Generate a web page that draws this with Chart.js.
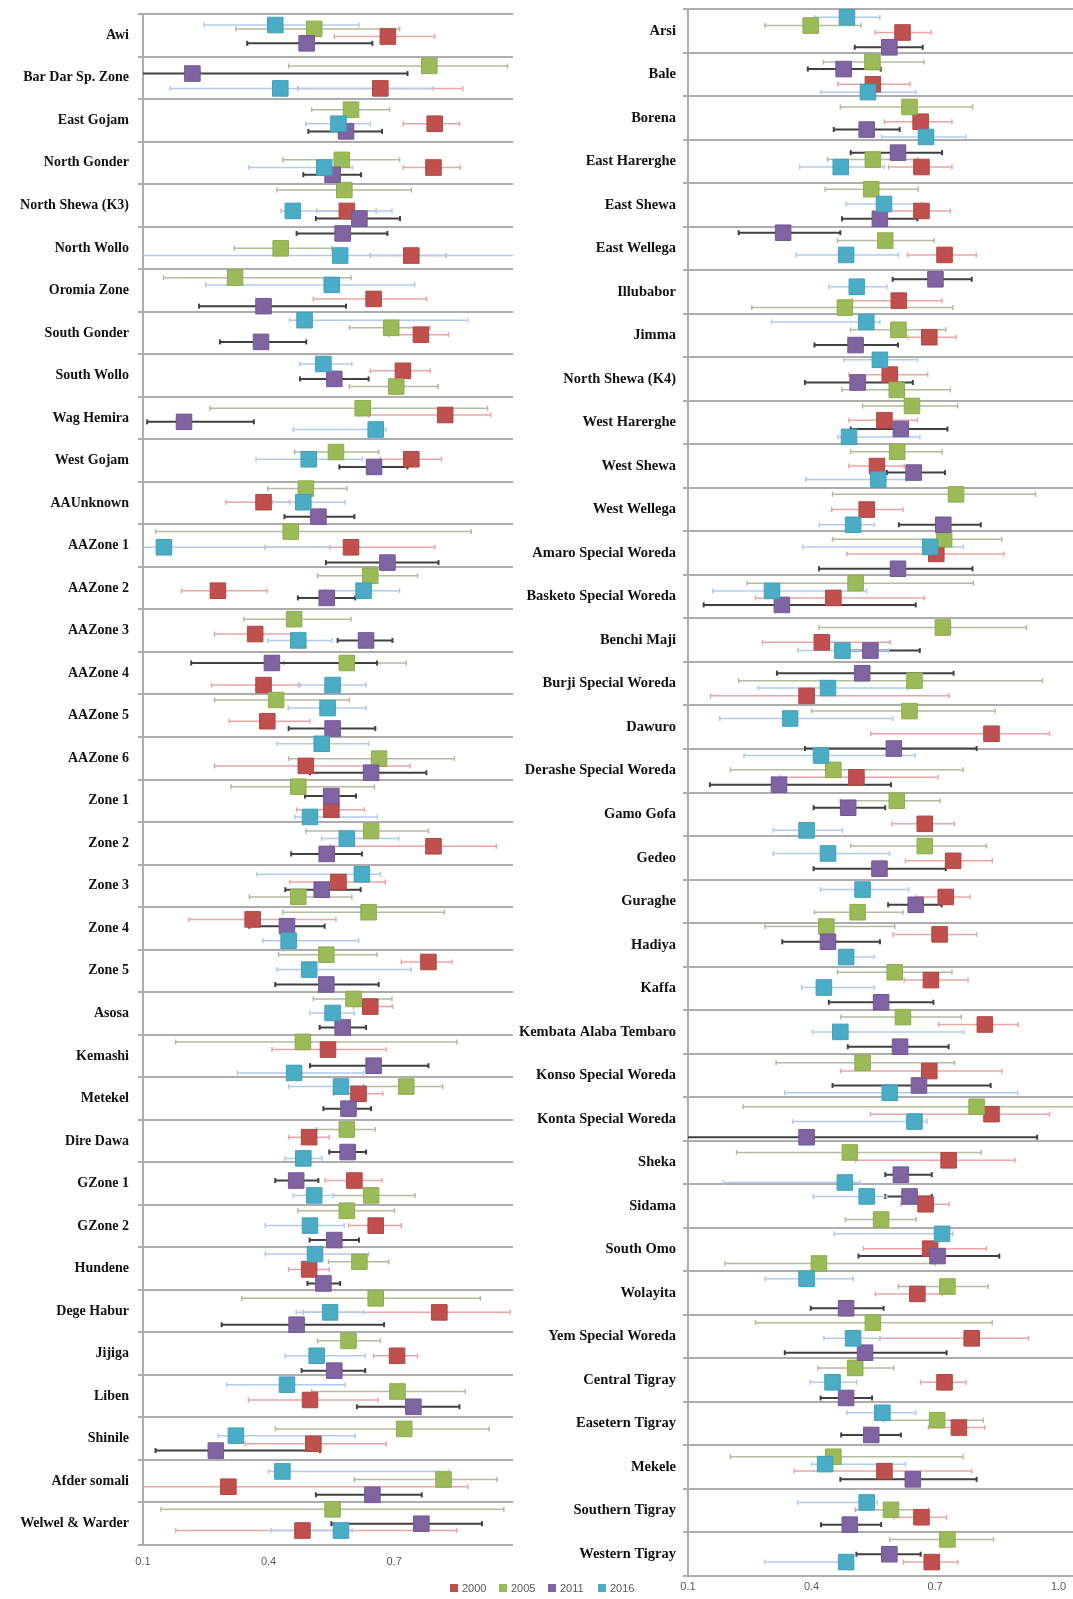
<!DOCTYPE html>
<html>
<head>
<meta charset="utf-8">
<script src="https://cdn.jsdelivr.net/npm/chart.js@4.4.0/dist/chart.umd.min.js"></script>
<style>
  html, body { margin: 0; padding: 0; background: #fff; }
  #page { position: relative; width: 1073px; height: 1599px; overflow: hidden; background: #fff; }
  #leftChart { position: absolute; left: 0; top: 0; }
  #rightChart { position: absolute; left: 512px; top: 0; }
  .lg { position: absolute; top: 1581px; height: 14px; font: 11px 'Liberation Sans', Arial, sans-serif; color: #595959; line-height: 14px; z-index: 5; }
  .lg i { display: inline-block; width: 8px; height: 8px; margin-right: 4px; vertical-align: -0px; }
</style>
</head>
<body>
<div id="page">
  <canvas id="leftChart" width="515" height="1599"></canvas>
  <canvas id="rightChart" width="561" height="1599"></canvas>
  <div class="lg" style="left:450px"><i style="background:#C0504D"></i>2000</div>
  <div class="lg" style="left:499px"><i style="background:#9BBB59"></i>2005</div>
  <div class="lg" style="left:548px"><i style="background:#8064A2"></i>2011</div>
  <div class="lg" style="left:598px"><i style="background:#4BACC6"></i>2016</div>
</div>
<script>
// ---------------------------------------------------------------
// Data: estimate, lower / upper limit and the
// row position of each marker inside its zone band (0 = top, 1 = bottom)
// ---------------------------------------------------------------
const seriesNames = ['2000', '2005', '2011', '2016'];
const xTicksLeft = [0.1, 0.4, 0.7];
const xTicksRight = [0.1, 0.4, 0.7, 1.0];

const leftZones = ['Awi', 'Bar Dar Sp. Zone', 'East Gojam', 'North Gonder', 'North Shewa (K3)', 'North Wollo',
  'Oromia Zone', 'South Gonder', 'South Wollo', 'Wag Hemira', 'West Gojam', 'AAUnknown', 'AAZone 1', 'AAZone 2',
  'AAZone 3', 'AAZone 4', 'AAZone 5', 'AAZone 6', 'Zone 1', 'Zone 2', 'Zone 3', 'Zone 4', 'Zone 5', 'Asosa',
  'Kemashi', 'Metekel', 'Dire Dawa', 'GZone 1', 'GZone 2', 'Hundene', 'Dege Habur', 'Jijiga', 'Liben', 'Shinile',
  'Afder somali', 'Welwel & Warder'];

const rightZones = ['Arsi', 'Bale', 'Borena', 'East Harerghe', 'East Shewa', 'East Wellega', 'Illubabor', 'Jimma',
  'North Shewa (K4)', 'West Harerghe', 'West Shewa', 'West Wellega', 'Amaro Special Woreda', 'Basketo Special Woreda',
  'Benchi Maji', 'Burji Special Woreda', 'Dawuro', 'Derashe Special Woreda', 'Gamo Gofa', 'Gedeo', 'Guraghe',
  'Hadiya', 'Kaffa', 'Kembata Alaba Tembaro', 'Konso Special Woreda', 'Konta Special Woreda', 'Sheka', 'Sidama',
  'South Omo', 'Wolayita', 'Yem Special Woreda', 'Central Tigray', 'Easetern Tigray', 'Mekele', 'Southern Tigray',
  'Western Tigray'];

// left panel
const left2000 = [0.685,0.667,0.797,0.794,0.587,0.741,0.651,0.764,0.721,0.822,0.741,0.388,0.597,0.279,0.368,0.388,0.397,0.489,0.550,0.794,0.567,0.362,0.782,0.643,0.542,0.615,0.497,0.605,0.656,0.497,0.808,0.707,0.499,0.507,0.304,0.481];
const left2000Lo = [0.557,0.470,0.722,0.722,0.515,0.643,0.507,0.687,0.643,0.640,0.667,0.298,0.392,0.192,0.271,0.264,0.306,0.271,0.467,0.547,0.451,0.210,0.717,0.603,0.408,0.555,0.448,0.535,0.591,0.448,0.483,0.651,0.352,0.344,0.080,0.178];
const left2000Hi = [0.797,0.864,0.856,0.858,0.657,0.824,0.777,0.830,0.786,0.931,0.813,0.450,0.797,0.396,0.475,0.475,0.499,0.738,0.629,0.944,0.679,0.561,0.838,0.696,0.681,0.673,0.545,0.671,0.717,0.545,0.977,0.756,0.661,0.681,0.876,0.850];
const left2000Row = [0.53,0.75,0.58,0.61,0.63,0.68,0.70,0.54,0.39,0.43,0.47,0.48,0.54,0.56,0.58,0.78,0.63,0.68,0.71,0.57,0.41,0.29,0.29,0.34,0.35,0.39,0.41,0.43,0.49,0.52,0.53,0.55,0.59,0.62,0.63,0.66];

const left2005 = [0.509,0.784,0.597,0.575,0.581,0.429,0.320,0.693,0.705,0.625,0.561,0.489,0.453,0.643,0.461,0.587,0.418,0.664,0.471,0.645,0.471,0.639,0.538,0.603,0.482,0.729,0.587,0.645,0.587,0.617,0.656,0.591,0.708,0.724,0.818,0.553];
const left2005Lo = [0.322,0.448,0.503,0.434,0.420,0.318,0.149,0.593,0.593,0.260,0.462,0.398,0.130,0.517,0.341,0.436,0.271,0.448,0.310,0.489,0.354,0.434,0.424,0.507,0.178,0.627,0.515,0.555,0.470,0.543,0.336,0.517,0.503,0.416,0.605,0.143];
const left2005Hi = [0.713,0.971,0.689,0.713,0.741,0.551,0.597,0.786,0.805,0.923,0.663,0.587,0.884,0.756,0.597,0.729,0.593,0.844,0.653,0.782,0.599,0.820,0.659,0.695,0.850,0.816,0.655,0.750,0.701,0.687,0.906,0.667,0.870,0.927,0.946,0.962];
const left2005Row = [0.35,0.22,0.25,0.43,0.14,0.51,0.20,0.38,0.76,0.27,0.30,0.16,0.17,0.21,0.23,0.26,0.13,0.51,0.17,0.21,0.76,0.12,0.12,0.16,0.17,0.22,0.23,0.78,0.14,0.34,0.20,0.20,0.39,0.27,0.46,0.16];

const left2011 = [0.491,0.218,0.585,0.553,0.617,0.577,0.388,0.382,0.557,0.198,0.652,0.519,0.684,0.539,0.633,0.408,0.553,0.645,0.550,0.539,0.527,0.444,0.538,0.577,0.651,0.591,0.589,0.466,0.557,0.531,0.467,0.557,0.746,0.274,0.648,0.765];
const left2011Lo = [0.349,0.080,0.495,0.483,0.513,0.467,0.234,0.284,0.475,0.110,0.569,0.438,0.537,0.470,0.565,0.215,0.448,0.499,0.487,0.454,0.440,0.354,0.416,0.522,0.499,0.531,0.545,0.416,0.498,0.493,0.288,0.479,0.611,0.130,0.513,0.550];
const left2011Hi = [0.648,0.732,0.671,0.621,0.714,0.684,0.585,0.490,0.639,0.365,0.732,0.605,0.806,0.607,0.696,0.659,0.655,0.777,0.609,0.623,0.620,0.534,0.663,0.633,0.782,0.645,0.633,0.519,0.616,0.571,0.676,0.631,0.856,0.523,0.766,0.910];
const left2011Row = [0.69,0.40,0.76,0.78,0.81,0.16,0.87,0.71,0.58,0.59,0.65,0.82,0.90,0.73,0.73,0.26,0.80,0.84,0.39,0.75,0.59,0.45,0.82,0.83,0.73,0.74,0.76,0.43,0.83,0.85,0.82,0.90,0.75,0.78,0.82,0.50];

const left2016 = [0.416,0.428,0.567,0.533,0.458,0.571,0.551,0.486,0.531,0.656,0.496,0.483,0.150,0.627,0.471,0.553,0.541,0.527,0.499,0.587,0.623,0.448,0.497,0.553,0.461,0.573,0.483,0.509,0.499,0.511,0.547,0.515,0.444,0.322,0.433,0.573];
const left2016Lo = [0.246,0.165,0.489,0.353,0.430,0.080,0.250,0.450,0.475,0.459,0.370,0.410,0.080,0.535,0.398,0.471,0.447,0.420,0.463,0.527,0.372,0.386,0.420,0.499,0.326,0.448,0.440,0.459,0.392,0.392,0.466,0.440,0.300,0.280,0.400,0.406];
const left2016Hi = [0.616,0.793,0.643,0.600,0.695,1.000,0.749,0.876,0.599,0.680,0.624,0.583,0.547,0.713,0.551,0.633,0.633,0.639,0.660,0.711,0.667,0.615,0.741,0.605,0.627,0.627,0.527,0.555,0.581,0.639,0.627,0.631,0.583,0.607,0.830,0.600];
const left2016Row = [0.26,0.75,0.58,0.61,0.63,0.68,0.37,0.20,0.23,0.77,0.47,0.48,0.54,0.56,0.73,0.78,0.32,0.16,0.88,0.39,0.23,0.79,0.47,0.49,0.90,0.22,0.91,0.78,0.49,0.16,0.53,0.55,0.23,0.43,0.27,0.66];

// right panel
const right2000 = [0.621,0.549,0.665,0.667,0.667,0.723,0.612,0.686,0.590,0.577,0.559,0.534,0.703,0.453,0.425,0.388,0.837,0.509,0.675,0.744,0.726,0.711,0.690,0.821,0.686,0.837,0.733,0.677,0.688,0.657,0.789,0.723,0.758,0.577,0.667,0.692];
const right2000Lo = [0.555,0.464,0.577,0.587,0.583,0.633,0.499,0.633,0.491,0.491,0.491,0.449,0.486,0.264,0.281,0.155,0.544,0.323,0.596,0.628,0.654,0.598,0.625,0.709,0.471,0.543,0.507,0.617,0.526,0.555,0.566,0.665,0.684,0.358,0.600,0.623];
const right2000Hi = [0.690,0.639,0.741,0.741,0.737,0.800,0.717,0.751,0.682,0.657,0.625,0.622,0.867,0.674,0.591,0.734,0.978,0.707,0.747,0.839,0.785,0.801,0.780,0.902,0.862,0.978,0.894,0.734,0.825,0.717,0.927,0.775,0.821,0.789,0.728,0.755];
const right2000Row = [0.54,0.73,0.59,0.63,0.64,0.65,0.70,0.54,0.40,0.45,0.50,0.50,0.52,0.53,0.55,0.78,0.65,0.65,0.72,0.57,0.40,0.26,0.31,0.33,0.40,0.39,0.45,0.46,0.48,0.52,0.54,0.55,0.59,0.59,0.65,0.68];

const right2005 = [0.398,0.548,0.638,0.549,0.545,0.579,0.481,0.611,0.607,0.644,0.608,0.751,0.722,0.507,0.719,0.650,0.638,0.453,0.607,0.675,0.512,0.436,0.602,0.622,0.524,0.801,0.493,0.569,0.418,0.730,0.549,0.506,0.705,0.453,0.593,0.730];
const right2005Lo = [0.287,0.429,0.470,0.439,0.433,0.463,0.255,0.495,0.474,0.524,0.495,0.451,0.451,0.244,0.418,0.223,0.400,0.203,0.470,0.495,0.407,0.287,0.463,0.471,0.314,0.234,0.218,0.482,0.190,0.611,0.264,0.415,0.575,0.203,0.506,0.590];
const right2005Hi = [0.520,0.673,0.791,0.659,0.659,0.698,0.743,0.726,0.737,0.755,0.717,0.944,0.862,0.793,0.922,0.961,0.846,0.768,0.712,0.825,0.622,0.602,0.741,0.764,0.747,1.050,0.812,0.654,0.700,0.829,0.839,0.600,0.817,0.768,0.684,0.842];
const right2005Row = [0.38,0.22,0.25,0.46,0.14,0.32,0.86,0.37,0.75,0.12,0.17,0.15,0.18,0.19,0.21,0.43,0.13,0.48,0.19,0.23,0.75,0.08,0.13,0.16,0.21,0.22,0.27,0.81,0.82,0.35,0.18,0.22,0.42,0.26,0.48,0.16];

const right2011 = [0.589,0.478,0.534,0.610,0.566,0.331,0.701,0.507,0.512,0.617,0.648,0.720,0.610,0.328,0.543,0.523,0.600,0.321,0.489,0.565,0.653,0.440,0.569,0.615,0.661,0.388,0.617,0.638,0.706,0.484,0.530,0.484,0.545,0.646,0.493,0.589];
const right2011Lo = [0.505,0.391,0.454,0.495,0.474,0.223,0.597,0.407,0.384,0.495,0.583,0.612,0.418,0.138,0.490,0.316,0.384,0.153,0.405,0.405,0.586,0.329,0.442,0.488,0.451,0.050,0.579,0.579,0.514,0.398,0.335,0.422,0.472,0.470,0.423,0.509];
const right2011Hi = [0.670,0.568,0.614,0.717,0.657,0.470,0.789,0.610,0.646,0.730,0.724,0.811,0.791,0.653,0.663,0.745,0.801,0.593,0.579,0.726,0.716,0.566,0.696,0.733,0.835,0.948,0.692,0.692,0.856,0.575,0.728,0.547,0.617,0.801,0.569,0.665];
const right2011Row = [0.88,0.38,0.77,0.30,0.82,0.14,0.21,0.72,0.58,0.65,0.65,0.85,0.86,0.69,0.74,0.26,0.99,0.82,0.35,0.75,0.58,0.43,0.82,0.84,0.73,0.92,0.78,0.28,0.65,0.85,0.87,0.91,0.76,0.78,0.82,0.50];

const right2016 = [0.486,0.537,0.678,0.471,0.576,0.484,0.510,0.533,0.566,0.491,0.562,0.501,0.688,0.304,0.475,0.440,0.348,0.423,0.388,0.440,0.524,0.484,0.430,0.470,0.590,0.650,0.481,0.534,0.717,0.388,0.501,0.451,0.572,0.433,0.534,0.484];
const right2016Lo = [0.407,0.423,0.570,0.371,0.484,0.363,0.442,0.303,0.478,0.464,0.386,0.419,0.379,0.160,0.367,0.270,0.177,0.236,0.307,0.307,0.422,0.470,0.376,0.402,0.335,0.354,0.186,0.404,0.455,0.287,0.430,0.397,0.486,0.400,0.366,0.287];
const right2016Hi = [0.566,0.653,0.775,0.577,0.667,0.611,0.583,0.566,0.657,0.663,0.629,0.552,0.769,0.534,0.587,0.633,0.597,0.652,0.475,0.589,0.636,0.552,0.552,0.770,0.901,0.680,0.518,0.583,0.743,0.501,0.566,0.510,0.653,0.628,0.560,0.500];
const right2016Row = [0.19,0.91,0.94,0.63,0.48,0.65,0.38,0.19,0.06,0.83,0.81,0.85,0.36,0.37,0.74,0.60,0.30,0.15,0.87,0.40,0.23,0.78,0.48,0.50,0.90,0.56,0.96,0.28,0.14,0.17,0.54,0.55,0.25,0.43,0.31,0.68];

// ---------------------------------------------------------------
const markerColors = ['#C0504D', '#9BBB59', '#8064A2', '#4BACC6'];
const markerEdges = ['#B04744', '#8DAD4C', '#735896', '#40A0BA'];
const barColors = ['#EBA6A4', '#B4BB9E', '#404040', '#AFCBEF'];
const barWidths = [1.5, 1.5, 2, 1.5];

function seriesDatasets(s, est, lo, hi, row) {
    const points = est.map((v, i) => ({ x: v, y: i + row[i] }));
    const bars = [];
    lo.forEach((l, i) => {
        const y = i + row[i];
        bars.push({ x: l, y: y }, { x: hi[i], y: y }, { x: null, y: null });
    });
    return [
        {
            label: seriesNames[s],
            data: points,
            pointStyle: 'rect',
            pointRadius: 11,
            backgroundColor: markerColors[s],
            borderColor: markerEdges[s],
            borderWidth: 1,
            order: 4 - s
        },
        {
            label: seriesNames[s] + ' CI',
            data: bars,
            showLine: true,
            spanGaps: false,
            borderColor: barColors[s],
            borderWidth: barWidths[s],
            pointStyle: 'line',
            pointRotation: 90,
            pointRadius: 2.5,
            pointBorderWidth: barWidths[s],
            pointBorderColor: barColors[s],
            backgroundColor: barColors[s],
            order: 10 - s
        }
    ];
}

// no extra room for the end labels, the layout padding decides the plot box
function noAxisPadding(ax) {
    ax.paddingTop = 0;
    ax.paddingBottom = 0;
    ax.paddingLeft = 0;
    ax.paddingRight = 0;
}

function buildPanel(canvasId, zones, series, cfg) {
    let datasets = [];
    series.forEach((d, s) => { datasets = datasets.concat(seriesDatasets(s, d[0], d[1], d[2], d[3])); });

    return new Chart(document.getElementById(canvasId).getContext('2d'), {
        type: 'scatter',
        data: { datasets: datasets },
        options: {
            responsive: false,
            animation: false,
            events: [],
            layout: { padding: cfg.padding, autoPadding: false },
            plugins: { legend: { display: false }, tooltip: { enabled: false } },
            scales: {
                x: {
                    type: 'linear',
                    min: 0.1,
                    max: cfg.xMax,
                    afterBuildTicks: ax => { ax.ticks = cfg.xTicks.map(v => ({ value: v })); },
                    afterFit: ax => { ax.height = cfg.xHeight; noAxisPadding(ax); },
                    grid: { display: false, drawTicks: false },
                    border: { display: false },
                    ticks: {
                        autoSkip: false,
                        maxRotation: 0,
                        padding: cfg.xPad,
                        color: '#595959',
                        font: { family: "'Liberation Sans', Arial, sans-serif", size: 11 },
                        callback: v => Number(v).toFixed(1)
                    }
                },
                y: {
                    type: 'linear',
                    min: 0,
                    max: zones.length,
                    reverse: true,
                    afterBuildTicks: ax => { ax.ticks = zones.map((z, i) => ({ value: i + 0.5 })); },
                    afterFit: ax => { ax.width = cfg.yWidth; noAxisPadding(ax); },
                    grid: { offset: true, color: '#ADADAD', lineWidth: 2, tickLength: 5 },
                    border: { display: true, color: '#ADADAD', width: 2 },
                    ticks: {
                        autoSkip: false,
                        padding: cfg.yPad,
                        color: '#111',
                        font: { family: "'Liberation Serif', 'Times New Roman', serif", size: cfg.labelSize, weight: 'bold' },
                        callback: (v, i) => zones[i]
                    }
                }
            }
        }
    });
}

buildPanel('leftChart', leftZones, [
    [left2000, left2000Lo, left2000Hi, left2000Row],
    [left2005, left2005Lo, left2005Hi, left2005Row],
    [left2011, left2011Lo, left2011Hi, left2011Row],
    [left2016, left2016Lo, left2016Hi, left2016Row]
], {
    padding: { top: 14, right: 2, bottom: 24, left: 0 },
    xMax: 0.984, xTicks: xTicksLeft, xHeight: 30, xPad: 10,
    yWidth: 143, yPad: 9, labelSize: 14
});

buildPanel('rightChart', rightZones, [
    [right2000, right2000Lo, right2000Hi, right2000Row],
    [right2005, right2005Lo, right2005Hi, right2005Row],
    [right2011, right2011Lo, right2011Hi, right2011Row],
    [right2016, right2016Lo, right2016Hi, right2016Row]
], {
    padding: { top: 9, right: 0, bottom: 7, left: 0 },
    xMax: 1.035, xTicks: xTicksRight, xHeight: 16, xPad: 4,
    yWidth: 176, yPad: 7, labelSize: 14.5
});
</script>
</body>
</html>
